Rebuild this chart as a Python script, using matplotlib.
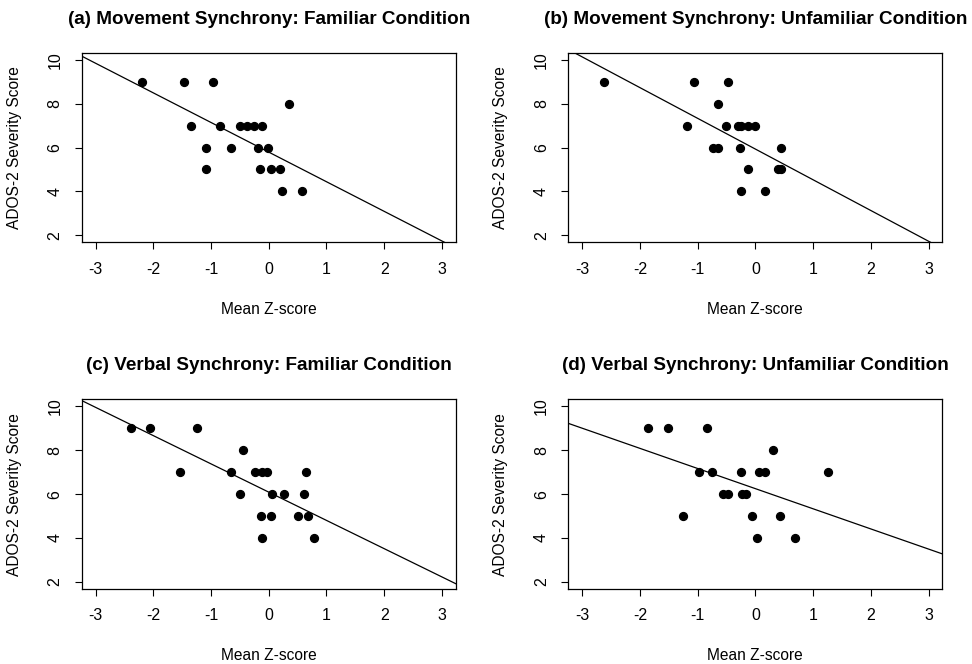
import matplotlib.pyplot as plt

# scatter data (mean z-score vs ADOS-2 severity)
titles = ["(a) Movement Synchrony: Familiar Condition",
          "(b) Movement Synchrony: Unfamiliar Condition",
          "(c) Verbal Synchrony: Familiar Condition",
          "(d) Verbal Synchrony: Unfamiliar Condition"]

a_x = [-2.20, -1.46, -0.97, 0.35, -1.35, -0.84, -0.50, -0.38, -0.25, -0.11,
       -1.08, -0.65, -0.185, -0.02, -1.08, -0.15, 0.035, 0.20, 0.23, 0.58]
a_y = [9, 9, 9, 8, 7, 7, 7, 7, 7, 7, 6, 6, 6, 6, 5, 5, 5, 5, 4, 4]

b_x = [-2.62, -1.07, -0.47, -0.65, -1.18, -0.50, -0.30, -0.24, -0.12, -0.01,
       -0.73, -0.65, -0.26, 0.44, -0.12, 0.39, 0.45, -0.25, 0.16]
b_y = [9, 9, 9, 8, 7, 7, 7, 7, 7, 7, 6, 6, 6, 6, 5, 5, 5, 4, 4]

c_x = [-2.38, -2.05, -1.25, -0.45, -1.54, -0.66, -0.24, -0.11, -0.03, 0.65,
       -0.50, 0.06, 0.27, 0.61, -0.13, 0.04, 0.51, 0.68, -0.12, 0.79]
c_y = [9, 9, 9, 8, 7, 7, 7, 7, 7, 7, 6, 6, 6, 6, 5, 5, 5, 5, 4, 4]

d_x = [-1.86, -1.51, -0.84, 0.31, -0.98, -0.75, -0.25, 0.06, 0.16, 1.26,
       -0.56, -0.47, -0.23, -0.17, -1.26, -0.05, 0.43, 0.03, 0.69]
d_y = [9, 9, 9, 8, 7, 7, 7, 7, 7, 7, 6, 6, 6, 6, 5, 5, 5, 4, 4]

# regression lines (intercept, slope)
intercepts = [5.79, 5.93, 6.09, 6.25]
slopes = [-1.35, -1.40, -1.288, -0.918]

xticks = [-3, -2, -1, 0, 1, 2, 3]
yticks = [2, 4, 6, 8, 10]

plt.rcParams['font.family'] = ['Liberation Sans', 'DejaVu Sans']
plt.rcParams['axes.unicode_minus'] = False

fig = plt.figure(figsize=(9.72, 6.64), dpi=100)
positions = [[0.0841, 0.6351, 0.3848, 0.2855],
             [0.5847, 0.6351, 0.3848, 0.2855],
             [0.0841, 0.1131, 0.3848, 0.2855],
             [0.5847, 0.1131, 0.3848, 0.2855]]
xs = [a_x, b_x, c_x, d_x]
ys = [a_y, b_y, c_y, d_y]

for i in range(4):
    ax = fig.add_axes(positions[i])
    ax.scatter(xs[i], ys[i], s=32, color='black', zorder=3)
    ax.axline((0, intercepts[i]), slope=slopes[i], color='black', linewidth=0.9)
    ax.set_xlim(-3.24, 3.24)
    ax.set_ylim(1.68, 10.32)
    ax.set_xticks(xticks)
    ax.set_yticks(yticks)
    ax.tick_params(direction='out', length=5, width=0.8, labelsize=11.5, pad=9)
    plt.setp(ax.get_yticklabels(), rotation=90, va='center')
    for sp in ax.spines.values():
        sp.set_linewidth(0.9)
    ax.set_title(titles[i], fontsize=13.6, fontweight='bold', pad=21)
    ax.set_xlabel("Mean Z-score", fontsize=11.2)
    ax.set_ylabel("ADOS-2 Severity Score", fontsize=11.2)
    ax.xaxis.set_label_coords(0.5, -0.313)
    ax.yaxis.set_label_coords(-0.160, 0.5)

fig.savefig("out.png", dpi=100)
